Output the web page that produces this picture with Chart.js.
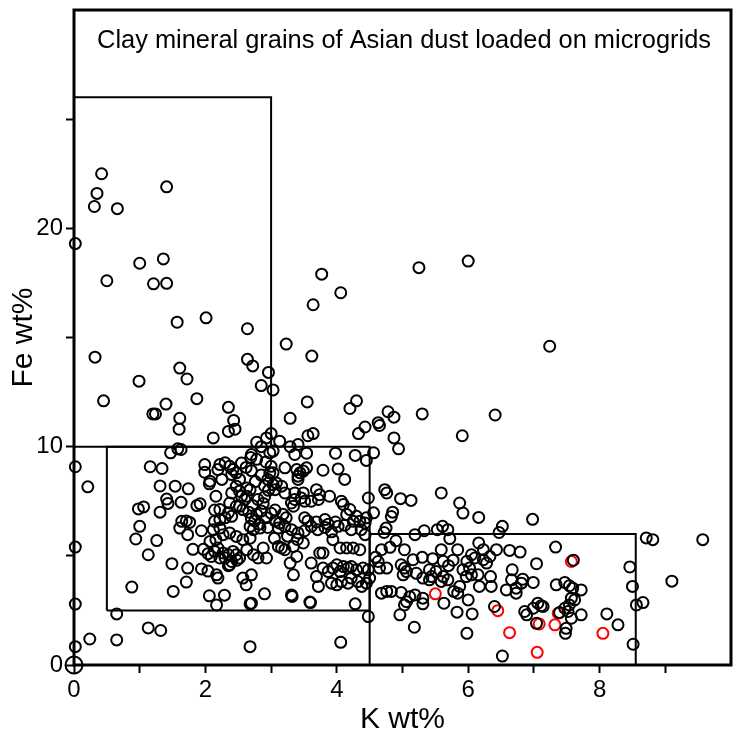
<!DOCTYPE html>
<html>
<head>
<meta charset="utf-8">
<script src="https://cdn.jsdelivr.net/npm/chart.js@4.4.0/dist/chart.umd.min.js"></script>
<style>
html, body { margin: 0; padding: 0; background: #fff; }
</style>
</head>
<body>
<canvas id="myChart" width="739" height="742"></canvas>
<script>
// K wt% / Fe wt% pairs
const blackPoints = [
    [0.42,22.5],[0.35,21.6],[0.31,21.0],[0.66,20.9],[1.41,21.9],[0.02,19.3],
    [1.0,18.4],[1.36,18.6],[0.5,17.6],[1.21,17.46],[1.41,17.48],[1.57,15.7],[2.01,15.9],[2.64,15.4],
    [0.32,14.1],[1.61,13.6],[1.72,13.1],[0.99,13.0],[2.64,14.0],[2.72,13.7],
    [0.45,12.1],[1.40,11.95],[1.87,12.2],[1.20,11.5],[1.24,11.5],[1.61,11.3],[1.60,10.8],
    [2.35,11.8],[2.43,11.2],[2.35,10.7],[2.45,10.8],[2.12,10.4],[1.58,9.9],[1.63,9.87],[1.47,9.72],
    [0.02,9.08],[0.21,8.16],[1.16,9.08],[1.34,9.0],[2.69,9.5],
    [3.77,17.9],[5.25,18.2],[6.0,18.5],[4.06,17.05],[3.64,16.5],[3.23,14.7],[3.62,14.15],
    [2.96,13.4],[2.85,12.8],[3.03,12.6],[3.55,12.05],[3.29,11.3],[4.30,12.1],[4.20,11.75],
    [4.78,11.6],[4.87,11.35],[5.30,11.5],[6.41,11.45],[4.43,10.9],[4.33,10.6],[4.63,11.1],[4.65,10.97],
    [5.91,10.5],[4.87,10.4],[4.94,9.9],[3.56,10.5],[3.64,10.6],[3.0,10.6],[2.93,10.4],[2.78,10.2],
    [2.85,10.0],[3.13,10.25],[3.29,10.0],[3.41,10.1],[3.03,9.8],[3.54,9.7],[3.98,9.7],[4.28,9.6],
    [4.45,9.37],[4.56,9.72],[7.24,14.6],[2.70,9.64],[2.78,9.42],[2.98,9.72],[3.36,9.64],
    [1.99,9.18],[1.99,8.83],[2.22,9.18],[2.30,9.26],[2.19,8.95],[2.37,9.1],[2.42,8.95],[2.47,8.8],[2.40,8.72],
    [2.07,8.42],[2.25,8.5],[2.52,8.5],[1.54,8.19],[1.74,8.07],[1.31,8.2],[2.06,8.3],
    [1.41,7.6],[1.43,7.4],[1.63,7.45],[0.98,7.15],[1.06,7.24],[1.31,7.0],[1.87,7.3],[1.92,7.38],
    [2.16,7.73],[2.14,7.1],[2.40,7.88],[2.63,8.11],[2.68,8.03],[2.55,7.73],[2.60,7.58],[2.80,7.58],
    [2.90,8.2],[2.95,8.5],[2.98,8.8],[3.0,9.1],[2.92,9.3],[2.96,8.0],
    [2.22,7.12],[2.35,6.97],[2.40,6.81],[2.30,6.74],[2.52,7.27],[2.57,7.12],
    [1.00,6.35],[1.64,6.58],[1.71,6.6],[1.76,6.53],[1.61,6.27],[2.14,6.58],
    [2.70,6.7],[2.78,6.9],[2.85,7.05],[2.93,6.75],[2.75,6.6],[3.0,6.95],
    [2.37,7.42],[2.47,7.27],[2.22,6.66],[2.07,5.66],[2.16,5.74],[2.47,8.19],[2.52,7.96],[2.63,7.73],
    [2.72,7.3],[2.88,7.4],[2.66,7.0],[2.82,6.45],[2.95,6.3],[2.68,6.35],[2.9,7.7],[2.76,8.4],
    [2.85,8.7],[2.7,8.9],[2.62,9.05],[2.55,9.25],
    [0.94,5.77],[1.26,5.7],[1.13,5.05],[1.49,4.64],[1.73,4.44],[1.71,3.8],[1.51,3.37],[0.88,3.57],
    [1.81,5.3],[1.97,5.3],[1.94,4.4],[2.04,4.3],[2.17,4.13],[2.19,3.98],[2.06,3.17],[2.29,3.2],[2.17,2.75],
    [2.04,5.1],[2.35,4.55],[2.48,4.8],[2.57,3.98],[2.62,3.67],[2.68,2.8],
    [1.73,5.97],[1.94,6.15],[2.12,6.2],[2.22,6.27],[2.27,5.97],[2.37,6.05],[2.47,5.89],[2.57,5.74],
    [2.68,5.81],[2.73,6.2],[2.83,6.27],
    [2.09,4.97],[2.14,5.2],[2.19,5.36],[2.27,5.13],[2.22,4.9],[2.30,4.9],[2.35,5.05],[2.42,5.2],
    [2.47,5.05],[2.52,4.9],[2.40,4.74],[2.63,5.28],[2.73,5.05],[2.80,4.9],[2.88,5.36],[2.93,4.9],
    [2.37,4.59],[2.70,4.13],
    [0.02,5.4],[0.02,2.79],[0.02,0.84],[0,0],[0.24,1.19],[0.65,2.34],[0.65,1.15],
    [1.13,1.7],[1.32,1.58],[2.68,0.84],[4.06,1.04],[4.48,2.22],[4.28,2.8],[3.6,2.86],[3.32,3.14],
    [2.9,3.26],[2.7,2.83],
    [3.21,9.03],[3.39,8.95],[3.44,8.8],[3.41,8.65],[3.49,8.88],[3.41,8.5],[3.54,9.03],[3.79,8.92],
    [4.02,8.98],[4.12,8.5],[3.03,8.8],[3.08,8.34],[3.06,8.03],[3.16,8.19],[3.21,7.88],[3.36,7.88],
    [3.49,7.88],[3.46,7.65],[3.51,7.5],[3.36,7.58],[3.31,7.42],[3.34,7.27],
    [3.69,8.03],[3.74,7.8],[3.72,7.58],[3.89,7.73],[3.61,7.5],[4.07,7.5],[4.10,7.35],[4.20,7.12],
    [4.15,6.89],[4.30,6.81],[4.25,6.58],[4.35,6.58],[4.45,6.74],[4.48,7.65],[4.43,6.5],
    [3.06,7.1],[3.18,6.9],[3.23,6.74],[3.13,6.5],[3.06,6.6],
    [3.51,6.74],[3.56,6.6],[3.69,6.55],[3.82,6.66],[3.87,6.45],[3.98,6.55],
    [3.11,6.27],[3.21,6.35],[3.31,6.2],[3.41,6.05],[3.51,6.15],[3.61,6.35],[3.71,6.2],[3.82,6.3],
    [3.92,6.1],[4.02,6.35],[4.12,6.4],[4.22,6.2],[4.37,6.2],[4.43,5.97],
    [3.16,5.36],[3.11,5.43],[3.21,5.28],[3.34,5.43],[3.49,5.59],[3.74,5.13],[3.79,5.13],[3.94,5.74],
    [4.05,5.36],[4.15,5.36],[4.25,5.36],[4.35,5.28],[3.39,4.97],[3.29,4.67],[3.61,4.67],
    [3.05,5.8],[3.25,5.9],[3.4,5.75],
    [3.79,4.44],[3.87,4.28],[3.94,4.44],[4.0,4.59],[4.05,4.28],[4.10,4.51],[4.17,4.44],[4.22,4.51],
    [4.30,4.36],[4.40,4.44],[4.48,4.36],[4.5,3.98],[3.34,4.13],[3.69,4.05],[3.72,3.6],
    [3.92,3.75],[4.0,3.67],[4.07,3.82],[4.17,3.75],[4.22,3.98],[4.32,3.82],[4.38,3.6],[4.45,3.75],
    [3.31,3.21],[3.59,2.88],[3.03,8.26],
    [5.59,7.88],[5.13,7.54],[4.97,7.62],[4.73,8.03],[4.76,7.88],[4.85,7.0],[4.83,6.8],[5.87,7.42],
    [5.92,6.96],[6.16,6.76],[4.56,6.97],[4.75,6.27],[4.72,6.07],[5.19,5.97],[5.33,6.15],[5.53,6.2],
    [5.61,6.35],[5.69,6.2],[5.72,5.79],[6.16,5.59],[6.23,5.28],
    [4.68,5.28],[4.81,5.39],[4.90,5.69],[5.03,5.28],[5.16,4.82],[5.30,4.93],[5.46,4.87],[5.59,5.28],
    [5.62,4.75],[5.70,4.55],[5.77,4.8],[5.84,5.28],
    [5.92,4.36],[6.02,4.44],[5.97,4.05],[6.05,4.13],[6.15,4.13],[6.34,4.05],[6.35,3.6],[6.17,3.6],
    [4.59,4.94],[4.63,4.74],[4.65,4.44],[4.76,4.44],[4.98,4.59],[5.03,4.44],[5.06,4.28],[5.01,4.13],
    [5.21,4.2],[5.31,3.98],[5.41,3.9],[5.44,4.05],[5.41,4.36],[5.51,4.28],[5.62,4.05],[5.69,3.9],
    [6.23,4.82],[6.28,4.67],[6.33,4.97],[6.43,5.28],[6.05,5.05],[5.98,4.75],[6.1,4.9],
    [4.68,3.29],[4.76,3.37],[4.83,3.37],[4.98,3.32],[5.06,2.9],[5.03,2.75],[5.11,3.13],[5.19,3.21],
    [5.31,3.06],[5.31,2.8],[5.63,2.83],[5.78,3.37],[5.84,3.29],[5.87,3.6],[6.0,2.98],[5.59,3.83],
    [5.18,1.73],[4.96,2.3],[5.98,1.45],[6.06,2.34],[5.83,2.42],[6.52,0.41],
    [6.52,6.35],[6.47,6.07],[6.98,6.67],[8.71,5.82],[8.81,5.74],[9.57,5.74],[6.63,5.25],[6.79,5.17],
    [7.33,5.4],[7.6,4.8],[7.04,4.64],[6.67,4.36],[8.46,4.49],
    [6.66,3.9],[6.83,3.93],[6.81,3.75],[6.99,3.78],[6.58,3.44],[6.73,3.52],[6.73,3.29],[7.34,3.67],
    [7.47,3.78],[7.54,3.63],[7.59,3.52],[7.72,3.44],[8.5,3.6],[9.1,3.84],[8.56,2.75],[8.66,2.86],
    [7.57,3.06],[7.62,2.98],[7.54,2.75],[6.40,2.68],[6.86,2.45],[6.89,2.3],[6.99,2.6],[7.06,2.83],
    [7.11,2.71],[7.14,2.68],[7.39,2.4],[7.47,2.6],[7.52,2.45],[7.57,2.14],[7.72,2.3],[7.04,1.91],
    [7.49,1.68],[7.48,1.45],[8.11,2.34],[8.28,1.84],[8.51,0.95]
];

const redPoints = [
    [5.5,3.26],[6.45,2.49],[7.57,4.74],[7.37,2.37],[7.08,1.88],[7.32,1.84],[6.63,1.48],[8.05,1.45],[7.05,0.58]
];

// boxes drawn on the plot (corner paths)
const boxUpper = [[0,10],[0,26],[3,26],[3,10],[0,10]];
const boxMiddle = [[0.5,2.5],[0.5,10],[4.5,10],[4.5,2.5],[0.5,2.5]];
const boxLower = [[4.5,0],[4.5,6],[8.55,6],[8.55,0]];

const kTicks = [0,1,2,3,4,5,6,7,8,9];
const kLabels = [0,2,4,6,8];
const feTicks = [0,5,10,15,20,25];
const feLabels = [0,10,20];

const titleText = 'Clay mineral grains of Asian dust loaded on microgrids';
const FONT = '"Liberation Sans", Arial, sans-serif';

const toXY = arr => arr.map(p => ({ x: p[0], y: p[1] }));

function boxDataset(arr) {
    return {
        data: toXY(arr),
        showLine: true,
        borderColor: '#000',
        borderWidth: 2,
        pointRadius: 0,
        fill: false,
        clip: false
    };
}

const framePlugin = {
    id: 'frame',
    afterDraw(chart) {
        const { ctx, chartArea: a } = chart;
        ctx.save();
        ctx.lineWidth = 3;
        ctx.strokeStyle = '#000';
        ctx.strokeRect(a.left, a.top, a.right - a.left, a.bottom - a.top);
        ctx.fillStyle = '#000';
        ctx.font = '25.4px ' + FONT;
        ctx.textAlign = 'center';
        ctx.textBaseline = 'alphabetic';
        ctx.fillText(titleText, 404, 48);
        ctx.restore();
    }
};

window.onload = () => {
    const ctx = document.getElementById('myChart').getContext('2d');
    new Chart(ctx, {
        type: 'scatter',
        data: {
            datasets: [
                {
                    data: toXY(blackPoints),
                    borderColor: '#000',
                    backgroundColor: 'rgba(0,0,0,0)',
                    borderWidth: 2,
                    pointRadius: c => (c.raw && c.raw.x === 0 && c.raw.y === 0) ? 8.5 : 5.5,
                    clip: false
                },
                {
                    data: toXY(redPoints),
                    borderColor: '#ff0000',
                    backgroundColor: 'rgba(0,0,0,0)',
                    borderWidth: 2,
                    pointRadius: 5.5,
                    clip: false
                },
                boxDataset(boxUpper),
                boxDataset(boxMiddle),
                boxDataset(boxLower)
            ]
        },
        options: {
            responsive: false,
            animation: false,
            devicePixelRatio: 1,
            layout: { autoPadding: false, padding: { top: 10, right: 8, left: 0, bottom: 0 } },
            plugins: { legend: { display: false }, tooltip: { enabled: false } },
            scales: {
                x: {
                    type: 'linear',
                    min: 0,
                    max: 10,
                    afterFit: s => { s.height = 77; s.paddingLeft = 0; s.paddingRight = 0; },
                    afterBuildTicks: s => { s.ticks = kTicks.map(v => ({ value: v })); },
                    ticks: {
                        autoSkip: false,
                        maxRotation: 0,
                        padding: 3,
                        color: '#000',
                        font: { size: 24, family: FONT },
                        callback: v => kLabels.includes(v) ? String(v) : ''
                    },
                    grid: { drawOnChartArea: false, drawTicks: true, tickLength: 8, tickWidth: 2, tickColor: '#000' },
                    border: { display: false },
                    title: { display: true, text: 'K wt%', color: '#000', font: { size: 30, family: FONT }, padding: { top: 0, bottom: 4 } }
                },
                y: {
                    type: 'linear',
                    min: 0,
                    max: 30,
                    afterFit: s => { s.width = 74; s.paddingTop = 0; s.paddingBottom = 0; },
                    afterBuildTicks: s => { s.ticks = feTicks.map(v => ({ value: v })); },
                    ticks: {
                        autoSkip: false,
                        padding: 3,
                        color: '#000',
                        font: { size: 24, family: FONT },
                        callback: v => feLabels.includes(v) ? String(v) : ''
                    },
                    grid: { drawOnChartArea: false, drawTicks: true, tickLength: 8, tickWidth: 2, tickColor: '#000' },
                    border: { display: false },
                    title: { display: true, text: 'Fe wt%', color: '#000', font: { size: 30, family: FONT }, padding: { top: 6, bottom: 0 } }
                }
            }
        },
        plugins: [framePlugin]
    });
};
</script>
</body>
</html>
